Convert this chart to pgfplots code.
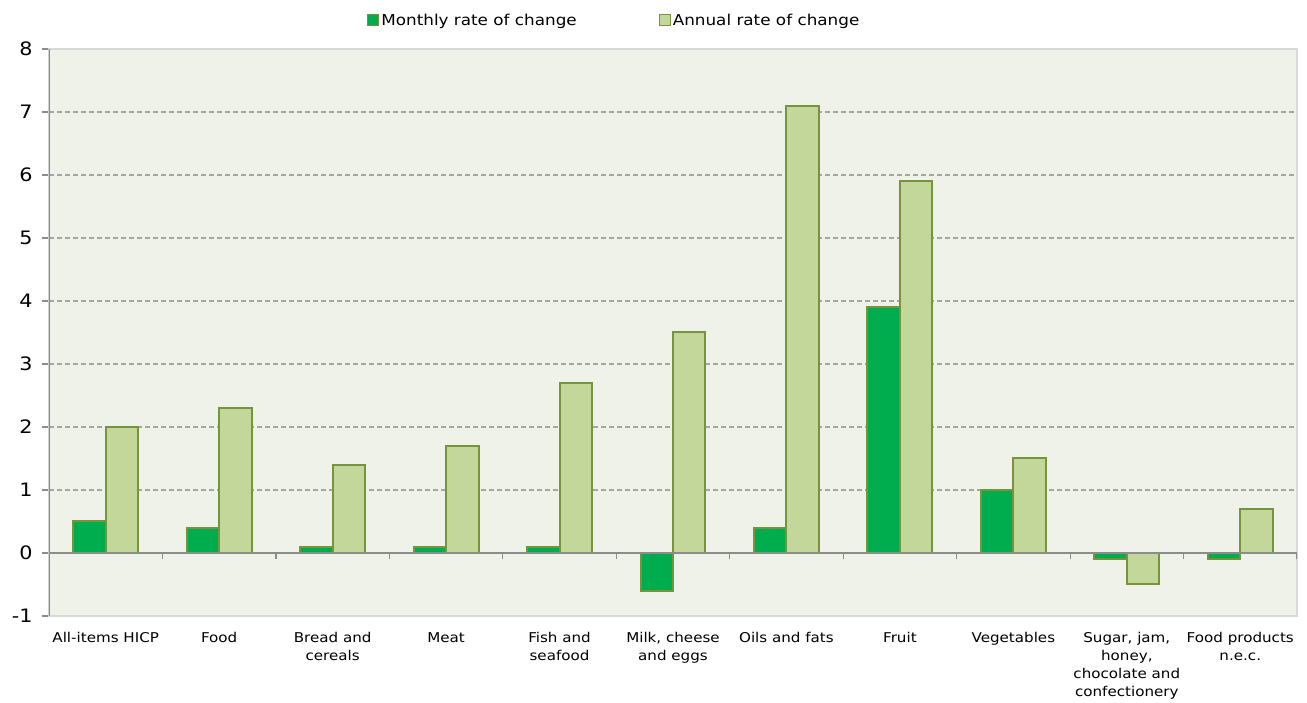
\documentclass[border=0pt]{standalone}
\usepackage{pgfplots}
\pgfplotsset{compat=1.18}
\usepackage{fontspec}
\setmainfont{DejaVu Sans}[FakeStretch=1.12]
\definecolor{monthly}{HTML}{00AD4E}
\definecolor{annual}{HTML}{C4D79B}
\definecolor{barborder}{HTML}{77933C}
\definecolor{plotbg}{HTML}{EFF2E9}
\definecolor{gridc}{HTML}{A6A6A6}
\definecolor{axisc}{HTML}{8C8C8C}
\definecolor{borderc}{HTML}{D9D9D9}
\begin{document}
\begin{tikzpicture}
\begin{axis}[
  scale only axis, width=1248pt, height=567pt,
  xmin=-0.5, xmax=10.5, ymin=-1, ymax=8,
  ytick={-1,0,1,2,3,4,5,6,7,8},
  xtick={0,1,2,3,4,5,6,7,8,9,10},
  xticklabels={All-items HICP, Food, {Bread and\\cereals}, Meat, {Fish and\\seafood}, {Milk, cheese\\and eggs}, Oils and fats, Fruit, Vegetables, {Sugar, jam,\\honey,\\chocolate and\\confectionery}, {Food products\\n.e.c.}},
  xticklabel style={align=center, font=\fontsize{13.5}{18}\selectfont, yshift=-6pt, anchor=north},
  yticklabel style={font=\fontsize{18.5}{20}\selectfont, xshift=-6pt},
  /pgf/number format/assume math mode=true,
  major x tick style={draw=none},
  ytick pos=left,
  ytick style={axisc, line width=1.2pt},
  tick align=outside, major tick length=7pt,
  ymajorgrids, grid style={gridc, line width=1.2pt, dash pattern=on 5pt off 3pt},
  axis background/.style={fill=plotbg},
  axis line style={borderc, line width=1.2pt},
  ybar=0pt, bar width=0.286,
  legend style={at={(0.453,1.051)}, anchor=center, draw=none, fill=none,
    font=\fontsize{15}{18}\selectfont, legend columns=2,
    /tikz/every even column/.append style={column sep=80pt}},
  legend image code/.code={\draw[#1, line width=1pt] (0pt,-5pt) rectangle (11pt,6pt);},
]
\addplot[fill=monthly, draw=barborder, line width=2pt] coordinates {
(0,0.5) (1,0.4) (2,0.1) (3,0.1) (4,0.1) (5,-0.6) (6,0.4) (7,3.9) (8,1.0) (9,-0.1) (10,-0.1)};
\addlegendentry{Monthly rate of change}
\addplot[fill=annual, draw=barborder, line width=2pt] coordinates {
(0,2.0) (1,2.3) (2,1.4) (3,1.7) (4,2.7) (5,3.5) (6,7.1) (7,5.9) (8,1.5) (9,-0.5) (10,0.7)};
\addlegendentry{Annual rate of change}
\draw[axisc, line width=1.5pt] (axis cs:-0.5,0) -- (axis cs:10.5,0);
\pgfplotsinvokeforeach{0.5,1.5,2.5,3.5,4.5,5.5,6.5,7.5,8.5,9.5,10.5}{
  \draw[axisc, line width=1.2pt] (axis cs:#1,0) -- ([yshift=-6pt]axis cs:#1,0);
}
\draw[axisc, line width=1.5pt] (rel axis cs:0,0) -- (rel axis cs:0,1);
\end{axis}
\path ([xshift=-49pt,yshift=49pt]current axis.north west) rectangle ([xshift=10pt,yshift=-86pt]current axis.south east);
\end{tikzpicture}
\end{document}
